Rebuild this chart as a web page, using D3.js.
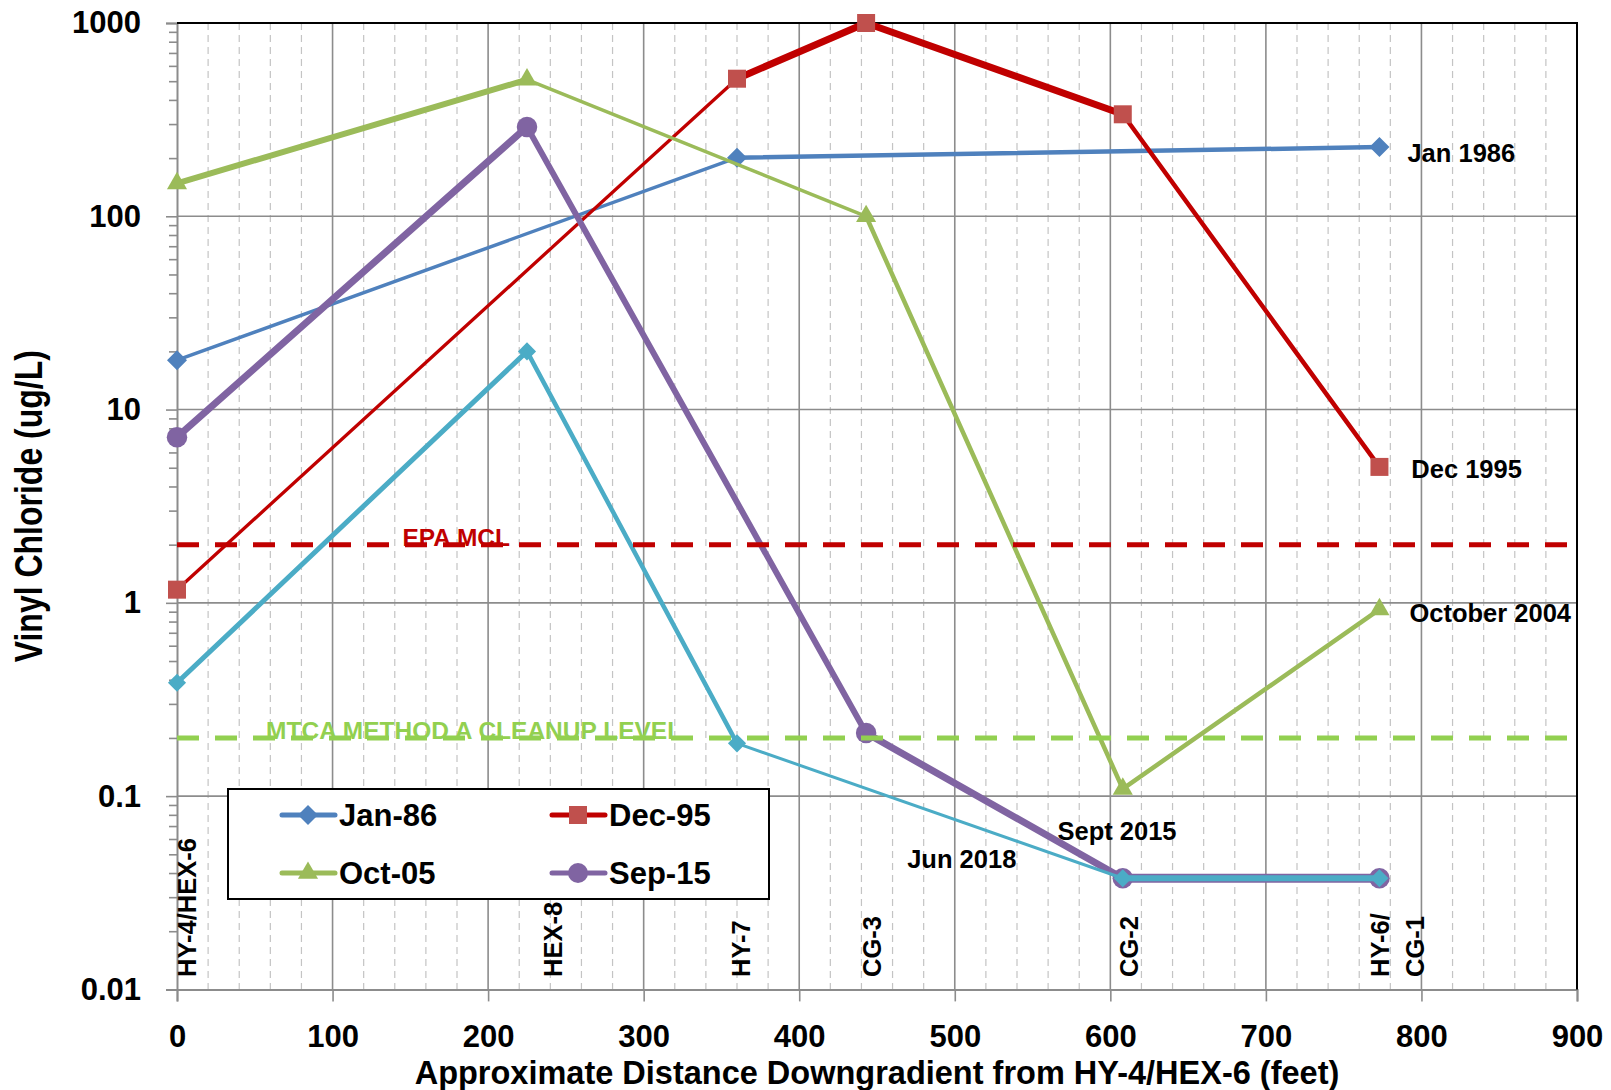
<!DOCTYPE html>
<html>
<head>
<meta charset="utf-8">
<script src="https://cdn.jsdelivr.net/npm/d3@7"></script>
<style>
  body { margin: 0; background: #fff; }
  svg text { font-family: "Liberation Sans", Arial, sans-serif; font-weight: bold; }
</style>
</head>
<body>
<svg id="chart" width="1611" height="1090"></svg>
<script>
// wells along the flow path and their distance downgradient (feet)
var wells = ["HY-4/HEX-6", "HEX-8", "HY-7", "CG-3", "CG-2", "HY-6/CG-1"];
var distance = [0, 225, 360, 443, 608, 773];

// vinyl chloride (ug/L) per well, null = not sampled
var jan86 = [18, null, 201, null, null, 228];
var dec95 = [1.17, null, 515, 1000, 337, 5.05];
var oct05 = [148, 509, null, 100, 0.109, 0.925];
var sep15 = [7.2, 290, null, 0.212, 0.0376, 0.0376];
var jun18 = [0.386, 20, 0.1875, null, 0.0376, 0.0376];

var seriesNames = ["Jan-86", "Dec-95", "Oct-05", "Sep-15", "Jun-18"];
var seriesLabels = ["Jan 1986", "Dec 1995", "October 2004", "Sept 2015", "Jun 2018"];
var labelFeet = [791, 793.5, 792.3, 566, 469.4];
var labelValue = [214, 4.91, 0.884, 0.066, 0.0473];

var refValues = [2, 0.2];
var refNames = ["EPA MCL", "MTCA METHOD A CLEANUP LEVEL"];
var refLabelFeet = [179.5, 191];

var wellLabels = ["HY-4/HEX-6", "HEX-8", "HY-7", "CG-3", "CG-2", "HY-6/", "CG-1"];
var wellLabelFeet = [6, 241, 362, 446, 611.4, 772.7, 795.2];

var yTicks = [0.01, 0.1, 1, 10, 100, 1000];
var xTicks = [0, 100, 200, 300, 400, 500, 600, 700, 800, 900];

// look of each series; widths are per segment (Excel formats segments one by one)
var styles = [
    {line: "#4F81BD", fill: "#4F81BD", marker: "diamond", size: 200, widths: [3.5, 4.5]},
    {line: "#C00000", fill: "#C0504D", marker: "square", size: 324, widths: [3.3, 7, 7, 4.5]},
    {line: "#9BBB59", fill: "#9BBB59", marker: "triangle", size: 175, widths: [6, 3.5, 4.5, 4.5]},
    {line: "#8064A2", fill: "#8064A2", marker: "circle", size: 330, widths: [7, 6, 7, 9]},
    {line: "#4BACC6", fill: "#4BACC6", marker: "diamond", size: 165, widths: [5, 4.5, 3, 6]}
];
var allSeries = [jan86, dec95, oct05, sep15, jun18];

var svg = d3.select("#chart");
var plotL = 177, plotR = 1577, plotT = 23, plotB = 989.4;

var x = d3.scaleLinear().domain([0, 900]).range([plotL, plotR]);
var y = d3.scaleLog().domain([0.01, 1000]).range([plotB, plotT]);

function markerPath(kind, size) {
    if (kind == "diamond" || kind == "square") return d3.symbol(d3.symbolSquare, size)();
    if (kind == "triangle") return d3.symbol(d3.symbolTriangle, size)();
    return d3.symbol(d3.symbolCircle, size)();
}

// grid
let minorX = d3.range(0, 901, 20).filter(d => d % 100 != 0);
svg.append("g").selectAll("line")
    .data(minorX)
    .enter().append("line")
    .attr("x1", d => x(d)).attr("x2", d => x(d))
    .attr("y1", plotT).attr("y2", plotB)
    .attr("stroke", "#c4c4c4").attr("stroke-width", 1.2)
    .attr("stroke-dasharray", "7,5");

svg.append("g").selectAll("line")
    .data(xTicks.slice(1, -1))
    .enter().append("line")
    .attr("x1", d => x(d)).attr("x2", d => x(d))
    .attr("y1", plotT).attr("y2", plotB)
    .attr("stroke", "#8c8c8c").attr("stroke-width", 1.6);

svg.append("g").selectAll("line")
    .data(yTicks.slice(1, -1))
    .enter().append("line")
    .attr("x1", plotL).attr("x2", plotR)
    .attr("y1", d => y(d)).attr("y2", d => y(d))
    .attr("stroke", "#8c8c8c").attr("stroke-width", 1.6);

// axes
let minorY = [];
yTicks.slice(0, -1).forEach(function(d) {
    for (let k = 2; k < 10; k++) minorY.push(d * k);
});
svg.append("g")
    .attr("transform", `translate(${plotL},0)`)
    .call(d3.axisLeft(y).tickValues(minorY).tickSize(8).tickFormat(""))
    .call(g => g.select(".domain").remove())
    .selectAll("line").attr("stroke", "#8c8c8c").attr("stroke-width", 1.6);

let yAxis = svg.append("g")
    .attr("transform", `translate(${plotL},0)`)
    .call(d3.axisLeft(y).tickValues(yTicks).tickSize(11).tickPadding(25).tickFormat(d => String(d)));
yAxis.select(".domain").attr("stroke", "#8c8c8c").attr("stroke-width", 2);
yAxis.selectAll("line").attr("stroke", "#8c8c8c").attr("stroke-width", 1.6);
yAxis.selectAll("text")
    .attr("font-size", 31).attr("fill", "#000")
    .attr("font-family", "Liberation Sans, Arial, sans-serif");

let xAxis = svg.append("g")
    .attr("transform", `translate(0,${plotB})`)
    .call(d3.axisBottom(x).tickValues(xTicks).tickSize(12).tickPadding(24));
xAxis.select(".domain").attr("stroke", "#8c8c8c").attr("stroke-width", 2);
xAxis.selectAll("line").attr("stroke", "#8c8c8c").attr("stroke-width", 1.6);
xAxis.selectAll("text")
    .attr("font-size", 31).attr("fill", "#000")
    .attr("font-family", "Liberation Sans, Arial, sans-serif");

// frame top and right
svg.append("line").attr("x1", plotL).attr("x2", plotR + 1).attr("y1", plotT).attr("y2", plotT)
    .attr("stroke", "#000").attr("stroke-width", 2);
svg.append("line").attr("x1", plotR).attr("x2", plotR).attr("y1", plotT).attr("y2", plotB)
    .attr("stroke", "#000").attr("stroke-width", 2);

// series
let lineGen = d3.line().x(d => x(d.ft)).y(d => y(d.v));
allSeries.forEach(function(values, si) {
    let st = styles[si];
    let pts = [];
    values.forEach((v, i) => { if (v != null) pts.push({ft: distance[i], v: v}); });
    let segs = d3.pairs(pts);
    let g = svg.append("g").attr("class", "series");
    g.selectAll("path.seg")
        .data(segs)
        .enter().append("path")
        .attr("class", "seg")
        .attr("d", d => lineGen(d))
        .attr("fill", "none")
        .attr("stroke", st.line)
        .attr("stroke-width", (d, i) => st.widths[i])
        .attr("stroke-linecap", "round");
    g.selectAll("path.mk")
        .data(pts)
        .enter().append("path")
        .attr("class", "mk")
        .attr("d", markerPath(st.marker, st.size))
        .attr("transform", d => `translate(${x(d.ft)},${y(d.v)})` + (st.marker == "diamond" ? " rotate(45)" : ""))
        .attr("fill", st.fill);
});

// regulatory levels
let refColors = ["#C00000", "#92D050"];
refValues.forEach(function(v, i) {
    svg.append("line")
        .attr("x1", plotL).attr("x2", plotR - 4)
        .attr("y1", y(v)).attr("y2", y(v))
        .attr("stroke", refColors[i]).attr("stroke-width", 5)
        .attr("stroke-dasharray", "22,16");
    svg.append("text")
        .attr("x", x(refLabelFeet[i]))
        .attr("y", y(v) + 1)
        .attr("text-anchor", "middle")
        .attr("font-size", 24.5)
        .attr("fill", refColors[i])
        .text(refNames[i]);
});

// series labels
svg.append("g").selectAll("text")
    .data(seriesLabels)
    .enter().append("text")
    .attr("x", (d, i) => x(labelFeet[i]))
    .attr("y", (d, i) => y(labelValue[i]))
    .attr("dy", "0.36em")
    .attr("font-size", 25.5)
    .attr("fill", "#000")
    .text(d => d);

// well names along the bottom
svg.append("g").selectAll("text")
    .data(wellLabels)
    .enter().append("text")
    .attr("transform", (d, i) => `translate(${x(wellLabelFeet[i]) + 10},977) rotate(-90)`)
    .attr("font-size", 25.5)
    .attr("fill", "#000")
    .text(d => d);

// legend
let legend = svg.append("g").attr("transform", "translate(228,789)");
legend.append("rect")
    .attr("width", 541).attr("height", 110)
    .attr("fill", "#fff").attr("stroke", "#000").attr("stroke-width", 2);
let items = legend.selectAll("g.item")
    .data(seriesNames.slice(0, 4))
    .enter().append("g")
    .attr("class", "item")
    .attr("transform", (d, i) => `translate(${i % 2 ? 350 : 80},${i < 2 ? 26 : 84})`);
items.append("line")
    .attr("x1", -26).attr("x2", 27)
    .attr("stroke", (d, i) => styles[i].line)
    .attr("stroke-width", 5)
    .attr("stroke-linecap", "round");
items.append("path")
    .attr("d", (d, i) => markerPath(styles[i].marker, styles[i].marker == "circle" ? 314 : styles[i].size))
    .attr("transform", (d, i) => styles[i].marker == "diamond" ? "rotate(45)" : null)
    .attr("fill", (d, i) => styles[i].fill);
items.append("text")
    .attr("x", 31)
    .attr("dy", "0.36em")
    .attr("font-size", 31)
    .attr("fill", "#000")
    .text(d => d);

// axis titles
svg.append("text")
    .attr("x", (plotL + plotR) / 2)
    .attr("y", 1084)
    .attr("text-anchor", "middle")
    .attr("font-size", 32.5)
    .attr("fill", "#000")
    .text("Approximate Distance Downgradient from HY-4/HEX-6 (feet)");

svg.append("text")
    .attr("transform", `translate(42,${(plotT + plotB) / 2}) scale(1.2,1) rotate(-90)`)
    .attr("text-anchor", "middle")
    .attr("font-size", 32)
    .attr("fill", "#000")
    .text("Vinyl Chloride (ug/L)");
</script>
</body>
</html>
